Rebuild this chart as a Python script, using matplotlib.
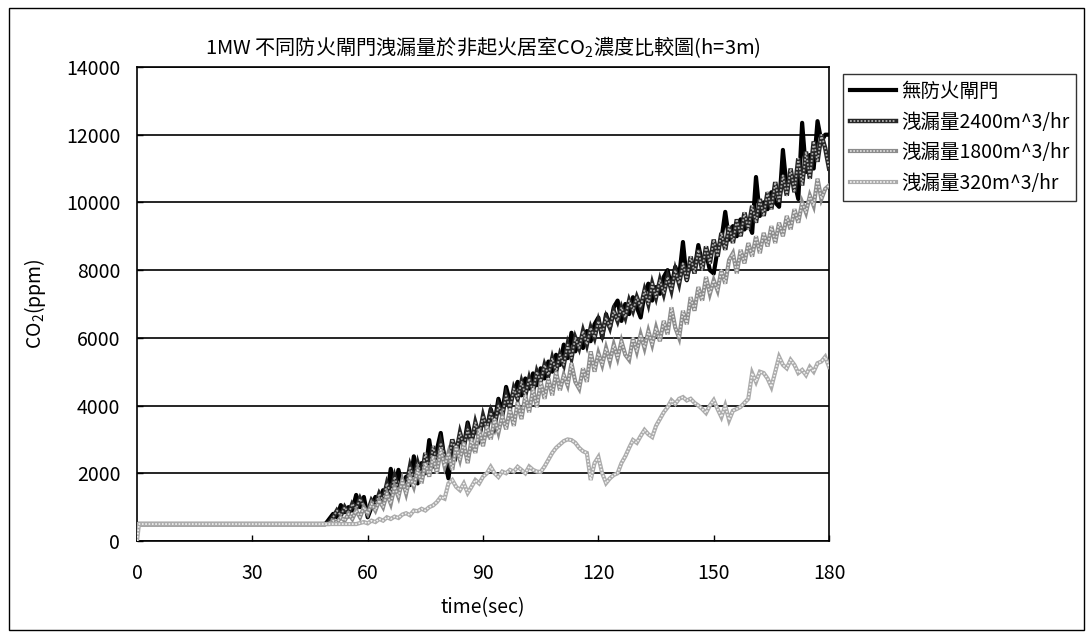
import matplotlib
matplotlib.use('Agg')
import matplotlib.pyplot as plt
from matplotlib.patches import Rectangle

plt.rcParams['font.family'] = ['Noto Sans CJK TC', 'DejaVu Sans']
plt.rcParams['mathtext.fontset'] = 'custom'
plt.rcParams['mathtext.rm'] = 'Noto Sans CJK TC'
plt.rcParams['mathtext.it'] = 'Noto Sans CJK TC'

# 時間(秒): 0~49秒為背景值, 49秒之後每秒一筆
t_main = [0] + list(range(49, 181))
t_320 = [0, 0.5] + list(range(49, 181))

# 無防火閘門
co2_none = [500, 500,
    650, 800, 700, 1060, 850, 1000, 900, 1360, 1000, 1300,
    700, 1000, 1300, 1150, 1500, 1300, 2130, 1500, 2100, 1600,
    1900, 1650, 2500, 1700, 2300, 2000, 2980, 2200, 2700, 3190,
    2400, 1850, 2800, 2500, 3100, 2800, 3500, 3000, 3300, 3100,
    3600, 3300, 3900, 3500, 4200, 3800, 4550, 4100, 4400, 4700,
    4300, 4800, 4500, 4950, 4600, 5100, 4800, 5300, 5000, 5500,
    5200, 5800, 5400, 6150, 5600, 5900, 5700, 6200, 5900, 6400,
    6600, 6000, 6700, 6300, 6900, 7100, 6500, 7000, 6700, 7200,
    6900, 6600, 7300, 7600, 7100, 7500, 7300, 7800, 8000, 7500,
    8100, 7800, 8830, 7700, 8300, 8000, 8740, 8200, 8500, 8000,
    7900, 8600, 8900, 9720, 8900, 9300, 9000, 9500, 9200, 9400,
    9100, 10750, 9600, 10000, 9800, 10300, 10000, 9870, 11550, 10400,
    10800, 10600, 10100, 12350, 10900, 11400, 11000, 12400, 11800, 12000,
    12000]

# 洩漏量2400m^3/hr
co2_2400 = [500, 500,
    550, 700, 900, 750, 1000, 800, 1100, 950, 1250, 1000,
    850, 1200, 1050, 1400, 1200, 1700, 1400, 1900, 1500, 1800,
    1600, 2200, 1800, 2300, 1900, 2600, 2100, 2800, 2300, 2900,
    2500, 2300, 3000, 2600, 3200, 2800, 3300, 2900, 3500, 3100,
    3700, 3300, 3800, 3400, 4000, 3700, 4300, 3900, 4500, 4200,
    4700, 4300, 4800, 4400, 5000, 4700, 5200, 4900, 5400, 5000,
    5500, 5200, 5800, 5400, 6000, 5700, 6200, 5800, 6300, 6000,
    6500, 6100, 6600, 6300, 6800, 6500, 6900, 6600, 7100, 6800,
    7200, 6900, 7400, 7000, 7600, 7200, 7700, 7300, 7800, 7400,
    8000, 7600, 8200, 7700, 8400, 7900, 8600, 8000, 8700, 8200,
    8900, 8400, 9100, 8600, 9300, 8800, 9500, 9000, 9700, 9200,
    9900, 9400, 10100, 9600, 10300, 9800, 10600, 10000, 10800, 10200,
    11000, 10300, 11300, 10500, 11500, 10700, 11800, 11200, 12000, 11600,
    11000]

# 洩漏量1800m^3/hr
co2_1800 = [500, 500,
    500, 600, 550, 700, 600, 800, 650, 900, 700, 1000,
    800, 1100, 900, 1200, 1000, 1400, 1100, 1600, 1300, 1800,
    1400, 1900, 1600, 2100, 1700, 2300, 1900, 2500, 2000, 2700,
    2200, 2600, 2100, 2800, 2400, 2900, 2300, 3000, 2600, 3300,
    2800, 3400, 3000, 3600, 3200, 3700, 3300, 3900, 3400, 4100,
    3600, 4300, 3800, 4500, 3950, 4700, 4200, 4800, 4300, 5000,
    4450, 4900, 4600, 5250, 4700, 4500, 5100, 4700, 5600, 5000,
    5550, 5200, 5700, 5300, 5800, 5400, 5900, 5500, 5350, 6000,
    5600, 6100, 5700, 6200, 5800, 6300, 5900, 6500, 6100, 6900,
    6300, 6000, 6800, 6400, 7200, 6800, 7500, 7100, 7800, 7300,
    7700, 7400, 8000, 7600, 8300, 8500, 7900, 8600, 8200, 8800,
    8400, 9000, 8500, 9100, 8700, 9300, 8800, 9400, 9000, 9600,
    9200, 9800, 9400, 10000, 9700, 10200, 9900, 10700, 10100, 10400,
    10500]

# 洩漏量320m^3/hr
co2_320 = [0, 500, 500,
    500, 500, 500, 500, 500, 500, 500, 500, 530, 560,
    520, 600, 560, 650, 600, 700, 650, 720, 680, 780,
    820, 760, 900, 880, 950, 900, 1000, 1050, 1150, 1300,
    1250, 1700, 1800, 1600, 1500, 1700, 1420, 1600, 1800, 1700,
    1900, 2000, 2190, 2000, 1890, 2050, 2000, 2100, 2050, 2190,
    2100, 2000, 2200, 2100, 2050, 2040, 2200, 2400, 2600, 2750,
    2850, 2950, 3000, 2980, 2900, 2750, 2650, 2600, 1800, 2300,
    2480, 2000, 1710, 1850, 1950, 2000, 2300, 2500, 2750, 2980,
    2900, 3100, 3280, 3150, 3070, 3400, 3600, 3800, 3950, 4160,
    4050, 4200, 4250, 4150, 4200, 4080, 4000, 3900, 3780, 4000,
    4160, 3900, 3660, 4000, 3570, 3850, 3900, 3960, 4080, 4200,
    4960, 4700, 5000, 4960, 4800, 4550, 5000, 5440, 5200, 5100,
    5350, 5200, 4960, 5050, 4900, 5140, 5000, 5250, 5300, 5440,
    5140]

labels = ['無防火閘門', '洩漏量2400m^3/hr', '洩漏量1800m^3/hr', '洩漏量320m^3/hr']

fig = plt.figure(figsize=(10.91, 6.36), dpi=100)
ax = fig.add_axes([0.1256, 0.1494, 0.6343, 0.7453])


def 網點線(t, y, base, dot, lw, z):
    # 底色線 + 細點線, 做出網點質感
    l1, = ax.plot(t, y, color=base, lw=lw, zorder=z, solid_joinstyle='miter')
    l2, = ax.plot(t, y, color=dot, lw=lw * 0.4, ls=(0, (1, 1)), zorder=z)
    return (l1, l2)


h0, = ax.plot(t_main, co2_none, color='black', lw=3.0, zorder=3)
h1 = 網點線(t_main, co2_2400, '#262626', '#b0b0b0', 3.2, 4)
h2 = 網點線(t_main, co2_1800, '#8c8c8c', '#e0e0e0', 3.0, 5)
h3 = 網點線(t_320, co2_320, '#ababab', '#f2f2f2', 3.0, 6)

ax.set_xlim(0, 180)
ax.set_ylim(0, 14000)
ax.set_xticks(range(0, 181, 30))
ax.set_yticks(range(0, 14001, 2000))
ax.yaxis.grid(True, color='black', lw=1.2)
ax.set_axisbelow(True)
ax.tick_params(direction='in', length=4, width=1, labelsize=14, pad=12)
ax.tick_params(axis='x', pad=16)
for s in ax.spines.values():
    s.set_linewidth(1.2)

ax.set_title('1MW 不同防火閘門洩漏量於非起火居室CO$_2$濃度比較圖(h=3m)', fontsize=14.5, pad=9)
ax.set_xlabel('time(sec)', fontsize=14, labelpad=9)
ax.set_ylabel('CO$_2$(ppm)', fontsize=14, labelpad=13)

leg = ax.legend([h0, h1, h2, h3], labels, loc='upper left',
                bbox_to_anchor=(843 / 1091, 1 - 74 / 636),
                bbox_transform=fig.transFigure, fontsize=14, frameon=True,
                fancybox=False, edgecolor='black', handlelength=2.35,
                handletextpad=0.3, borderpad=0.35, labelspacing=0.5,
                borderaxespad=0)
leg.get_frame().set_linewidth(1)

# 外框
fig.patches.append(Rectangle((9 / 1091, 6 / 636), 1075 / 1091, 622 / 636,
                             transform=fig.transFigure, fill=False,
                             edgecolor='black', lw=1))

fig.savefig('out.png', dpi=100)
